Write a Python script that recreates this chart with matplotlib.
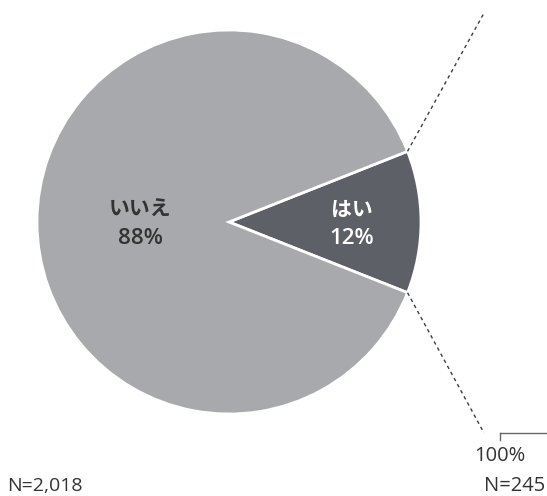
import numpy as np
import matplotlib
matplotlib.use("Agg")
import matplotlib.pyplot as plt

# data
labels = ["はい", "いいえ"]
values = [12, 88]
colors = ["#5e6068", "#a7a9ac"]
text_colors = ["white", "#333333"]
n_total = "N=2,018"
n_sub = "N=245"
bar_tick = "100%"

W, H = 547, 496
fig = plt.figure(figsize=(W / 100, H / 100), dpi=100)
ax = fig.add_axes([0, 0, 1, 1])
ax.set_xlim(0, W)
ax.set_ylim(H, 0)
ax.set_aspect("equal")
ax.axis("off")

fam = ["Open Sans", "Noto Sans CJK JP", "DejaVu Sans"]
jfam = ["Noto Sans CJK JP", "DejaVu Sans"]

cx, cy, r = 229, 222, 192
half = values[0] / sum(values) * 360 / 2
wedges, _ = ax.pie(values, colors=colors, startangle=-half, counterclock=True,
                   center=(cx, cy), radius=r, frame=True,
                   wedgeprops=dict(edgecolor="white", linewidth=2))
ax.set_xlim(0, W)
ax.set_ylim(H, 0)
ax.axis("off")

# labels
for lab, val, col, x in [(labels[0], values[0], text_colors[0], 352),
                         (labels[1], values[1], text_colors[1], 140)]:
    ax.text(x, 209, lab, ha="center", va="center",
            color=col, fontsize=15, fontweight="bold", family=jfam)
    ax.text(x, 239, f"{val}%", ha="center", va="center",
            color=col, fontsize=16, fontweight="semibold", family=fam)

# bar (off-canvas) axis
bx, btop, bbot = 500, 13, 433
ax.plot([bx, W + 5], [bbot, bbot], color="#666666", lw=1)
ax.plot([bx, bx], [bbot, bbot + 7], color="#666666", lw=1)

# connection lines
for sgn, yend in [(1, btop), (-1, bbot)]:
    th = np.deg2rad(half)
    x0 = cx + r * np.cos(th)
    y0 = cy - sgn * r * np.sin(th)
    x1 = 484
    ax.plot([x0, x1], [y0, yend], color="#3a3c44", lw=1, linestyle=(0, (2.5, 2.5)))

ax.text(bx, 456, bar_tick, ha="center", va="center", fontsize=14.5, color="#333333", family=fam)
ax.text(7, 486, n_total, ha="left", va="center", fontsize=14, color="#333333", family=fam)
ax.text(545, 486, n_sub, ha="right", va="center", fontsize=14.5, color="#333333", family=fam)

fig.savefig("out.png", dpi=100)
